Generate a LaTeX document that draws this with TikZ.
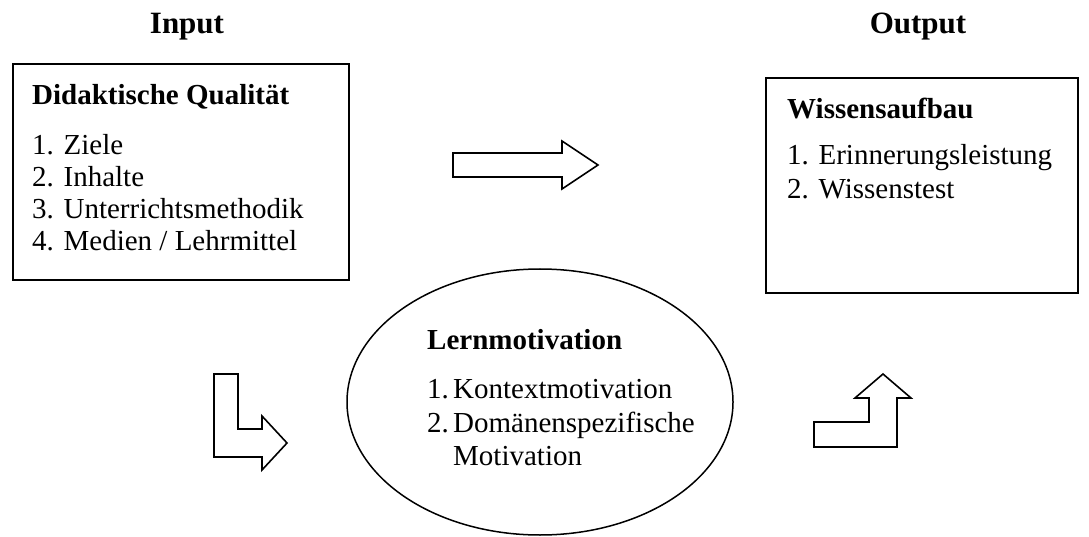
\documentclass[tikz,border=0pt]{standalone}
\usepackage{fontspec}
\setmainfont{Liberation Serif}
\usetikzlibrary{shapes.geometric}

\tikzset{
  frame/.style={draw, line width=2pt, inner sep=0pt, anchor=north west},
  blockarrow/.style={draw, line width=1.6pt, line join=miter, fill=white},
  title/.style={font=\fontsize{31}{36}\selectfont\bfseries, anchor=base, inner sep=0pt},
  head/.style={font=\fontsize{29}{33}\selectfont\bfseries, anchor=base west, inner sep=0pt},
  item/.style={font=\fontsize{29}{33}\selectfont, anchor=base west, inner sep=0pt},
}

\begin{document}
\begin{tikzpicture}[x=1pt, y=-1pt]
  \useasboundingbox[fill=white] (0,0) rectangle (1089,537);

  % column titles
  \node[title] (input)  at (187,34) {Input};
  \node[title] (output) at (918,34) {Output};

  % input box
  \node[frame, minimum width=336pt, minimum height=216pt] (dq) at (12,63) {};
  \node[head] (dqh) at (32,105) {Didaktische Qualität};
  \node[item] (dq1) at (32,155) {1. Ziele};
  \node[item] (dq2) at (32,186.5) {2. Inhalte};
  \node[item] (dq3) at (32,218.5) {3. Unterrichtsmethodik};
  \node[item] (dq4) at (32,251) {4. Medien / Lehrmittel};

  % output box
  \node[frame, minimum width=312pt, minimum height=215pt] (wa) at (765,77) {};
  \node[head] (wah) at (787,119) {Wissensaufbau};
  \node[item] (wa1) at (787,165) {1. Erinnerungsleistung};
  \node[item] (wa2) at (787,198.5) {2. Wissenstest};

  % motivation ellipse
  \node[draw, line width=1.5pt, ellipse, minimum width=386pt, minimum height=266pt, inner sep=0pt] (lm) at (540,402) {};
  \node[head] (lmh) at (427,349) {Lernmotivation};
  \node[item] (lm1n) at (427,398) {1.};
  \node[item] (lm1)  at (453,398) {Kontextmotivation};
  \node[item] (lm2n) at (427,432) {2.};
  \node[item] (lm2)  at (453,432) {Domänenspezifische};
  \node[item] (lm2b) at (453,465) {Motivation};

  % straight block arrow between the boxes
  \draw[blockarrow] (453,153) -- (562,153) -- (562,141) -- (598,165)
    -- (562,189) -- (562,177) -- (453,177) -- cycle;

  % bent block arrow into the ellipse
  \draw[blockarrow] (214,374) -- (238,374) -- (238,429) -- (262,429) -- (262,416)
    -- (287,443) -- (262,470) -- (262,457) -- (214,457) -- cycle;

  % bent block arrow out of the ellipse
  \draw[blockarrow] (814,422) -- (869,422) -- (869,398) -- (855,398) -- (883,374)
    -- (911,398) -- (897,398) -- (897,447) -- (814,447) -- cycle;
\end{tikzpicture}
\end{document}
